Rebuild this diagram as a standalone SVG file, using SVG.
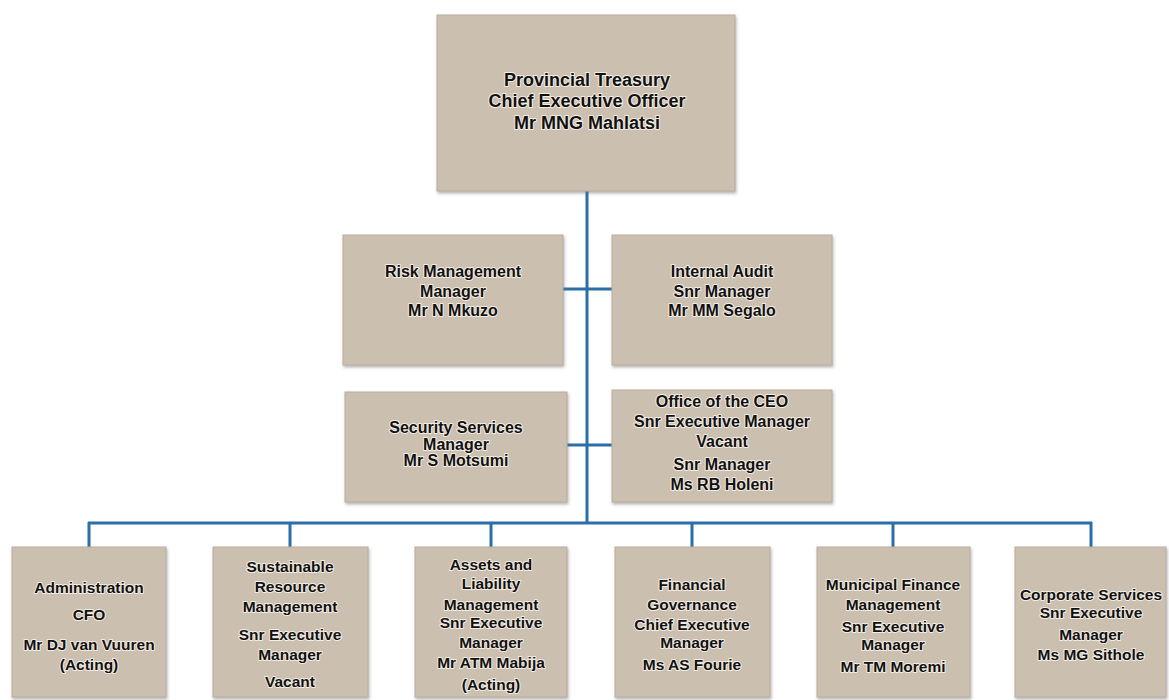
<svg xmlns="http://www.w3.org/2000/svg" width="1169" height="700" viewBox="0 0 1169 700">
<style>
.box{fill:#cbbfb0;stroke:#b9ad9f;stroke-width:1;filter:url(#sh)}
.t{font-family:"Liberation Sans",Arial,sans-serif;font-weight:bold;fill:#111;text-anchor:middle;stroke:#f3ede4;stroke-width:2;paint-order:stroke;stroke-linejoin:round}
.big{font-size:18px}
.mid{font-size:16px}
.sm{font-size:15.5px}
.con{stroke:#2b6fa6;stroke-width:3;fill:none}
</style>
<defs>
<filter id="sh" x="-5%" y="-5%" width="110%" height="115%">
<feDropShadow dx="1" dy="2" stdDeviation="1.5" flood-color="#6b6b6b" flood-opacity="0.5"/>
</filter>
</defs>
<rect width="1169" height="700" fill="#ffffff"/>
<g id="connectors">
<line class="con" x1="587" y1="190" x2="587" y2="523"/>
<line class="con" x1="563" y1="289" x2="612" y2="289"/>
<line class="con" x1="567" y1="445" x2="612" y2="445"/>
<line class="con" x1="88" y1="523" x2="1092" y2="523"/>
<line class="con" x1="89" y1="522" x2="89" y2="547"/>
<line class="con" x1="290" y1="522" x2="290" y2="547"/>
<line class="con" x1="491" y1="522" x2="491" y2="547"/>
<line class="con" x1="692" y1="522" x2="692" y2="547"/>
<line class="con" x1="893" y1="522" x2="893" y2="547"/>
<line class="con" x1="1091" y1="522" x2="1091" y2="547"/>
</g>
<g id="ceo">
<rect class="box" x="437" y="15" width="298" height="176"/>
<text class="t big" x="587" y="86">Provincial Treasury</text>
<text class="t big" x="587" y="107">Chief Executive Officer</text>
<text class="t big" x="587" y="129">Mr MNG Mahlatsi</text>
</g>
<g id="risk">
<rect class="box" x="343" y="235" width="220" height="130"/>
<text class="t mid" x="453" y="277">Risk Management</text>
<text class="t mid" x="453" y="297">Manager</text>
<text class="t mid" x="453" y="316">Mr N Mkuzo</text>
</g>
<g id="audit">
<rect class="box" x="612" y="235" width="220" height="130"/>
<text class="t mid" x="722" y="277">Internal Audit</text>
<text class="t mid" x="722" y="297">Snr Manager</text>
<text class="t mid" x="722" y="316">Mr MM Segalo</text>
</g>
<g id="security">
<rect class="box" x="345" y="392" width="222" height="110"/>
<text class="t mid" x="456" y="433">Security Services</text>
<text class="t mid" x="456" y="450">Manager</text>
<text class="t mid" x="456" y="466">Mr S Motsumi</text>
</g>
<g id="office">
<rect class="box" x="612" y="390" width="220" height="112"/>
<text class="t mid" x="722" y="407">Office of the CEO</text>
<text class="t mid" x="722" y="427">Snr Executive Manager</text>
<text class="t mid" x="722" y="447">Vacant</text>
<text class="t mid" x="722" y="470">Snr Manager</text>
<text class="t mid" x="722" y="490">Ms RB Holeni</text>
</g>
<g id="admin">
<rect class="box" x="12" y="547" width="154" height="150"/>
<text class="t sm" x="89" y="593">Administration</text>
<text class="t sm" x="89" y="620">CFO</text>
<text class="t sm" x="89" y="650">Mr DJ van Vuuren</text>
<text class="t sm" x="89" y="670">(Acting)</text>
</g>
<g id="sustainable">
<rect class="box" x="213" y="547" width="155" height="150"/>
<text class="t sm" x="290" y="572">Sustainable</text>
<text class="t sm" x="290" y="592">Resource</text>
<text class="t sm" x="290" y="612">Management</text>
<text class="t sm" x="290" y="640">Snr Executive</text>
<text class="t sm" x="290" y="660">Manager</text>
<text class="t sm" x="290" y="687">Vacant</text>
</g>
<g id="assets">
<rect class="box" x="415" y="547" width="152" height="150"/>
<text class="t sm" x="491" y="570">Assets and</text>
<text class="t sm" x="491" y="589">Liability</text>
<text class="t sm" x="491" y="610">Management</text>
<text class="t sm" x="491" y="628">Snr Executive</text>
<text class="t sm" x="491" y="648">Manager</text>
<text class="t sm" x="491" y="668">Mr ATM Mabija</text>
<text class="t sm" x="491" y="690">(Acting)</text>
</g>
<g id="financial">
<rect class="box" x="615" y="547" width="155" height="150"/>
<text class="t sm" x="692" y="590">Financial</text>
<text class="t sm" x="692" y="610">Governance</text>
<text class="t sm" x="692" y="630">Chief Executive</text>
<text class="t sm" x="692" y="648">Manager</text>
<text class="t sm" x="692" y="670">Ms AS Fourie</text>
</g>
<g id="municipal">
<rect class="box" x="817" y="547" width="153" height="150"/>
<text class="t sm" x="893" y="590">Municipal Finance</text>
<text class="t sm" x="893" y="610">Management</text>
<text class="t sm" x="893" y="632">Snr Executive</text>
<text class="t sm" x="893" y="650">Manager</text>
<text class="t sm" x="893" y="672">Mr TM Moremi</text>
</g>
<g id="corporate">
<rect class="box" x="1015" y="547" width="151" height="150"/>
<text class="t sm" x="1091" y="600">Corporate Services</text>
<text class="t sm" x="1091" y="618">Snr Executive</text>
<text class="t sm" x="1091" y="640">Manager</text>
<text class="t sm" x="1091" y="660">Ms MG Sithole</text>
</g>
</svg>
